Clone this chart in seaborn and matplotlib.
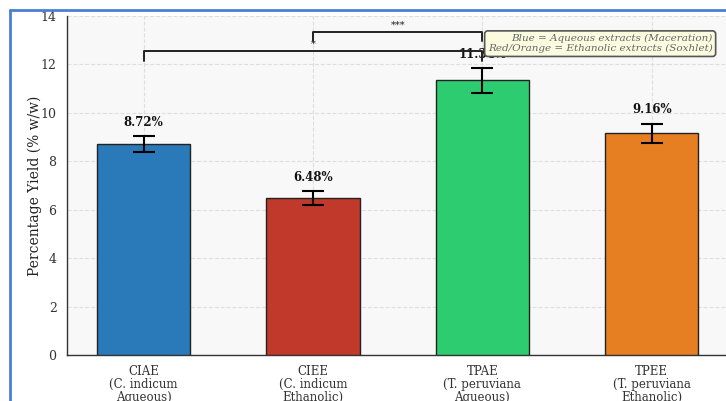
import matplotlib
matplotlib.use("Agg")
import matplotlib.pyplot as plt
import seaborn as sns
import pandas as pd
from matplotlib.lines import Line2D

# Extraction yields
extracts = ["CIAE", "CIEE", "TPAE", "TPEE"]
tick_labels = [
    "CIAE\n(C. indicum\nAqueous)",
    "CIEE\n(C. indicum\nEthanolic)",
    "TPAE\n(T. peruviana\nAqueous)",
    "TPEE\n(T. peruviana\nEthanolic)",
]
yields = [8.72, 6.48, 11.34, 9.16]
errors = [0.33, 0.28, 0.50, 0.40]
colors = ["#2a7ab9", "#c0392b", "#2ecc71", "#e67e22"]

# Significance comparisons: (left index, right index, base height, label)
comparisons = [(0, 2, 12.15, "*"), (1, 2, 12.95, "***")]
bracket_h = 0.4

sns.set_theme(style="whitegrid")
plt.rcParams["font.family"] = ["DejaVu Serif"]

fig = plt.figure(figsize=(7.26, 4.01), dpi=100)
ax = fig.add_axes([0.0923, 0.1147, 0.911, 0.8453])

df = pd.DataFrame({"extract": extracts, "yield": yields})
sns.barplot(data=df, x="extract", y="yield", hue="extract", palette=colors,
            saturation=1, width=0.55, edgecolor="#222222", linewidth=1.0,
            errorbar=None, legend=False, ax=ax, zorder=3)
ax.errorbar(range(len(extracts)), yields, yerr=errors, fmt="none",
            ecolor="black", elinewidth=1.5, capsize=8, capthick=1.5, zorder=4)

for i, (v, e) in enumerate(zip(yields, errors)):
    ax.text(i, v + e + 0.3, f"{v:.2f}%", ha="center", va="bottom",
            fontsize=8.5, fontweight="bold", color="#111111", zorder=5)

for x1, x2, y, label in comparisons:
    ax.plot([x1, x1, x2, x2], [y, y + bracket_h, y + bracket_h, y],
            color="#222222", lw=1.4, zorder=5)
    ax.text((x1 + x2) / 2, y + bracket_h + 0.08, label, ha="center",
            va="bottom", fontsize=7, color="#222222")

ax.text(0.976, 0.947,
        "Blue = Aqueous extracts (Maceration)\nRed/Orange = Ethanolic extracts (Soxhlet)",
        transform=ax.transAxes, ha="right", va="top", fontsize=7.5,
        style="italic", color="#666666", linespacing=1.15, zorder=6,
        bbox=dict(boxstyle="round,pad=0.3", facecolor="#fbfbe0",
                  edgecolor="#555555", linewidth=1.2))

ax.set_xlim(-0.4525, 3.4525)
ax.set_ylim(0, 14)
ax.set_xticks(range(len(extracts)))
ax.set_xticklabels(tick_labels, fontsize=8.5, color="#333333", linespacing=1.0)
ax.tick_params(axis="y", labelsize=9, colors="#333333")
ax.tick_params(axis="both", length=4, width=1, color="#333333")
ax.set_xlabel("")
ax.set_ylabel("Percentage Yield (% w/w)", fontsize=10, color="#222222",
              labelpad=-1)
ax.set_facecolor("#f8f8f8")
ax.grid(True, linestyle="--", color="#dddddd", linewidth=0.8, alpha=0.9)
ax.set_axisbelow(True)
for side in ["top", "right"]:
    ax.spines[side].set_visible(False)
for side in ["left", "bottom"]:
    ax.spines[side].set_color("#333333")
    ax.spines[side].set_linewidth(1.0)

# Page frame
fig.add_artist(Line2D([10 / 726, 10 / 726], [0, 1 - 10 / 401],
                      transform=fig.transFigure, color="#4a7fd6", lw=2))
fig.add_artist(Line2D([10 / 726, 1], [1 - 10 / 401, 1 - 10 / 401],
                      transform=fig.transFigure, color="#4a7fd6", lw=2))

fig.savefig("out.png", dpi=100)
